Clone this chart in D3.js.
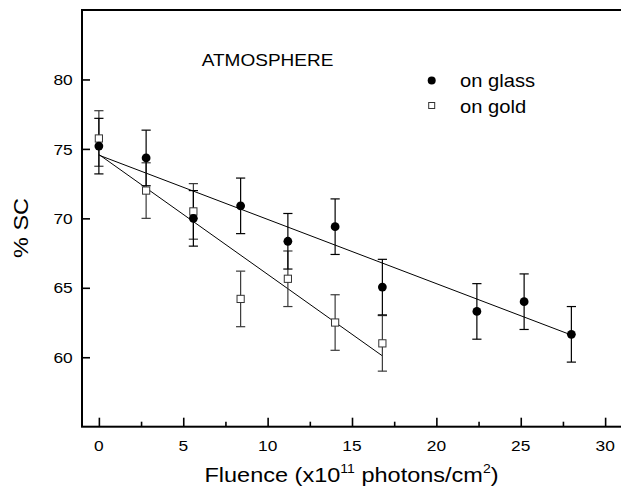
<!DOCTYPE html>
<html>
<head>
<meta charset="utf-8">
<script src="https://cdn.jsdelivr.net/npm/d3@7"></script>
<style>
  body { margin: 0; background: #fff; }
  text { font-family: "Liberation Sans", Arial, sans-serif; fill: #000; }
</style>
</head>
<body>
<svg id="chart" width="621" height="487"></svg>
<script>
// dati
const glassFluence = [0, 2.8, 5.6, 8.4, 11.2, 14, 16.8, 22.4, 25.2, 28];
const glassSC = [75.2, 74.35, 70.0, 70.9, 68.35, 69.4, 65.05, 63.3, 64.0, 61.65];
const glassErr = [2, 2, 2, 2, 2, 2, 2, 2, 2, 2];

const goldFluence = [0, 2.8, 5.6, 8.4, 11.2, 14, 16.8];
const goldSC = [75.75, 72.0, 70.5, 64.2, 65.65, 62.5, 61.0];
const goldErr = [2, 2, 2, 2, 2, 2, 2];

// rette di fit (estremi)
const glassFitX = [0, 28];
const glassFitY = [74.55, 61.6];
const goldFitX = [0, 16.8];
const goldFitY = [74.6, 60.1];

const xTicks = [0, 5, 10, 15, 20, 25, 30];
const xMinorTicks = [2.5, 7.5, 12.5, 17.5, 22.5, 27.5];
const yTicks = [60, 65, 70, 75, 80];

const SX = 1.12; // i caratteri dell'originale sono più larghi

const svg = d3.select('#chart');
const M = { left: 82, right: 622, top: 10, bottom: 426.7 };

const x = d3.scaleLinear().domain([-1, 31]).range([M.left, M.right]);
const y = d3.scaleLinear().domain([55, 85]).range([M.bottom, M.top]);

// testo stirato orizzontalmente
function label(sel, tx, ty, str, size, anchor, rot) {
    const t = sel.append('text')
        .attr('transform', `translate(${tx},${ty})` + (rot ? ` rotate(${rot})` : '') + ` scale(${SX},1)`)
        .attr('font-size', size)
        .attr('text-anchor', anchor || 'start')
        .text(str);
    return t;
}

// assi
const xAxis = d3.axisTop(x).tickValues(xTicks).tickSize(9).tickFormat('');
const xMinor = d3.axisTop(x).tickValues(xMinorTicks).tickSize(5).tickFormat('');
const yAxis = d3.axisRight(y).tickValues(yTicks).tickSize(8).tickFormat('');

svg.append('g').attr('transform', `translate(0,${M.bottom})`).call(xAxis);
svg.append('g').attr('transform', `translate(0,${M.bottom})`).call(xMinor);
svg.append('g').attr('transform', `translate(${M.left},0)`).call(yAxis);
svg.selectAll('.domain').remove();
svg.selectAll('.tick line').attr('stroke', '#000').attr('stroke-width', 1.6);

// cornice
svg.append('rect')
    .attr('x', M.left).attr('y', M.top)
    .attr('width', M.right - M.left).attr('height', M.bottom - M.top)
    .attr('fill', 'none').attr('stroke', '#000').attr('stroke-width', 2);

// etichette dei tick
xTicks.forEach(v => label(svg, x(v), 450.7, v, 15.5, 'middle'));
yTicks.forEach(v => label(svg, 72.7, y(v) + 5.6, v, 15.5, 'end'));

// titoli
const xt = label(svg, (M.left + 621) / 2, 481.7, '', 21, 'middle');
xt.append('tspan').text('Fluence (x10');
xt.append('tspan').attr('font-size', 12.5).attr('dy', -9).text('11');
xt.append('tspan').attr('dy', 9).text(' photons/cm');
xt.append('tspan').attr('font-size', 12.5).attr('dy', -9).text('2');
xt.append('tspan').attr('dy', 9).text(')');

label(svg, 28.3, 228, '% SC', 21, 'middle', -90);

label(svg, 201.7, 65.7, 'ATMOSPHERE', 17);

// rette di fit
const line = d3.line().x(d => x(d[0])).y(d => y(d[1]));
svg.append('path').datum(d3.zip(goldFitX, goldFitY))
    .attr('d', line).attr('fill', 'none').attr('stroke', '#000').attr('stroke-width', 1);
svg.append('path').datum(d3.zip(glassFitX, glassFitY))
    .attr('d', line).attr('fill', 'none').attr('stroke', '#000').attr('stroke-width', 1);

// barre d'errore
function errorBars(fx, fy, fe, color) {
    const g = svg.append('g').attr('stroke', color).attr('stroke-width', 1.2);
    fx.forEach((v, i) => {
        const cx = x(v), y1 = y(fy[i] + fe[i]), y2 = y(fy[i] - fe[i]);
        g.append('line').attr('x1', cx).attr('x2', cx).attr('y1', y1).attr('y2', y2);
        g.append('line').attr('x1', cx - 4.6).attr('x2', cx + 4.6).attr('y1', y1).attr('y2', y1);
        g.append('line').attr('x1', cx - 4.6).attr('x2', cx + 4.6).attr('y1', y2).attr('y2', y2);
    });
}
errorBars(goldFluence, goldSC, goldErr, '#3a3a3a');
errorBars(glassFluence, glassSC, glassErr, '#000');

// punti oro (quadrati vuoti)
svg.selectAll('rect.gold').data(d3.zip(goldFluence, goldSC)).enter()
    .append('rect').attr('class', 'gold')
    .attr('x', d => x(d[0]) - 3.6).attr('y', d => y(d[1]) - 3.6)
    .attr('width', 7.2).attr('height', 7.2)
    .attr('fill', '#fff').attr('stroke', '#333').attr('stroke-width', 1);

// punti vetro (cerchi pieni)
svg.selectAll('circle.glass').data(d3.zip(glassFluence, glassSC)).enter()
    .append('circle').attr('class', 'glass')
    .attr('cx', d => x(d[0])).attr('cy', d => y(d[1]))
    .attr('r', 4.4).attr('fill', '#000');

// legenda
svg.append('circle').attr('cx', 431.7).attr('cy', 80.5).attr('r', 4).attr('fill', '#000');
label(svg, 460, 87, 'on glass', 18);
svg.append('rect').attr('x', 428.7).attr('y', 102.5).attr('width', 6).attr('height', 6)
    .attr('fill', '#fff').attr('stroke', '#333').attr('stroke-width', 1);
label(svg, 460, 112.7, 'on gold', 18);
</script>
</body>
</html>
